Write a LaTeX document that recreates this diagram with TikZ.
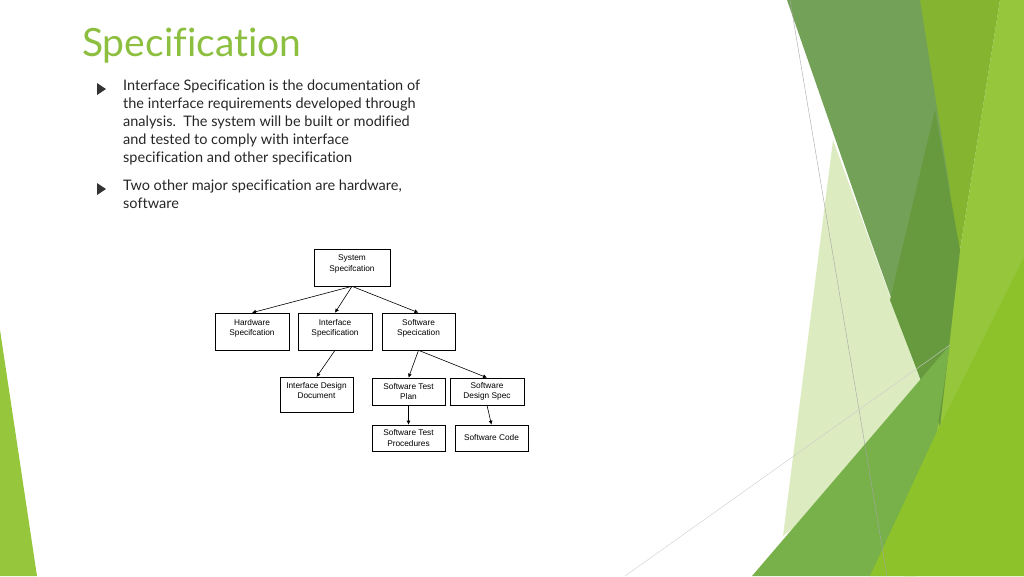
\documentclass[tikz,border=0pt]{standalone}
\usepackage{fontspec}
\setmainfont{Lato}[Ligatures=NoCommon]
\setsansfont{Liberation Sans}
\usetikzlibrary{arrows.meta}
\definecolor{ttl}{HTML}{8CBF3F}
\definecolor{dkg}{HTML}{73A157}
\definecolor{dkg2}{HTML}{679A3E}
\definecolor{mdg}{HTML}{85B530}
\definecolor{brg}{HTML}{96C63B}
\definecolor{brg2}{HTML}{8DC22A}
\definecolor{pale}{HTML}{DCEBC0}
\definecolor{trg}{HTML}{78B04A}
\tikzset{
 box/.style={draw,line width=0.6pt,align=center,font=\sffamily\fontsize{8.3}{10.5}\selectfont,inner sep=0pt},
 arr/.style={-{Latex[length=4pt,width=4pt]},line width=0.6pt},
 body/.style={anchor=north west,align=left,font=\fontsize{14.5}{18}\selectfont,inner sep=0pt,text=black!85}
}
\begin{document}
\begin{tikzpicture}[x=1pt,y=-1pt]
\useasboundingbox (0,0) rectangle (1024,576);
% decoration
\fill[brg] (1000,0) -- (1024,0) -- (1024,576) -- (905,576) -- (933,440) -- (960,250) -- cycle;
\fill[mdg] (920,0) -- (1000,0) -- (960,250) -- (940,426) -- cycle;
\fill[pale] (833,140) -- (935,420) -- (783,536) -- cycle;
\fill[dkg] (787,0) -- (920,0) -- (950,190) -- (940,426) -- (920,378) -- (870,239) -- cycle;
\fill[dkg2] (935,110) -- (960,250) -- (940,426) -- (920,378) -- (890,300) -- cycle;
\fill[trg] (752,576) -- (950,345) -- (915,576) -- cycle;
\fill[brg2] (1024,257) -- (1024,576) -- (870,576) -- (933,440) -- cycle;
\draw[gray!70,line width=0.4pt] (790,0) -- (887,576);
\draw[gray!40,line width=0.4pt] (625,576) -- (950,345);
\fill[brg] (0,330) -- (37,576) -- (0,576) -- cycle;
% title and text
\node[anchor=west,text=ttl,font=\fontsize{39}{44}\selectfont,inner sep=0pt] (title) at (82,46) {Specification};
\fill[black!80] (97,83) -- (106,89) -- (97,95) -- cycle;
\node[body] (b1) at (123,80) {Interface Specification is the documentation of\\the interface requirements developed through\\analysis.\ \ The system will be built or modified\\and tested to comply with interface\\specification and other specification};
\fill[black!80] (97,183) -- (106,189) -- (97,195) -- cycle;
\node[body] (b2) at (123,180) {Two other major specification are hardware,\\software};
% diagram
\node[box,minimum width=76pt,minimum height=37pt] (sys) at (352,267.5) {System\\Specifcation\\[-2pt]\mbox{}};
\node[box,minimum width=74pt,minimum height=37pt] (hw) at (252,331.5) {Hardware\\Specifcation\\[-2pt]\mbox{}};
\node[box,minimum width=74pt,minimum height=37pt] (if) at (335,331.5) {Interface\\Specification\\[-2pt]\mbox{}};
\node[box,minimum width=73pt,minimum height=37pt] (sw) at (418.5,331.5) {Software\\Specication\\[-2pt]\mbox{}};
\node[box,minimum width=73pt,minimum height=35pt,anchor=north] (idd) at (316.5,377) {Interface Design\\Document\\[-2pt]\mbox{}};
\node[box,minimum width=73pt,minimum height=27pt] (tp) at (408.5,391.5) {Software Test\\Plan};
\node[box,minimum width=74pt,minimum height=27pt] (ds) at (487,391.5) {Software\\Design Spec};
\node[box,minimum width=73pt,minimum height=26pt] (tpr) at (408.5,438) {Software Test\\Procedures};
\node[box,minimum width=73pt,minimum height=26pt] (sc) at (491.5,438) {Software Code};
\draw[arr] (sys.south) -- (hw.north);
\draw[arr] (sys.south) -- (if.north);
\draw[arr] (sys.south) -- (sw.north);
\draw[arr] (if.south) -- (idd.north);
\draw[arr] (sw.south) -- (tp.north);
\draw[arr] (sw.south) -- (ds.north);
\draw[arr] (tp.south) -- (tpr.north);
\draw[arr] (ds.south) -- (sc.north);
\end{tikzpicture}
\end{document}
